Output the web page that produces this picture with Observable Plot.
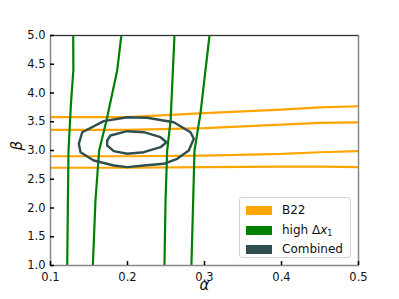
<!DOCTYPE html>
<html><head><meta charset="utf-8">
<script src="https://cdn.jsdelivr.net/npm/d3@7"></script>
<script src="https://cdn.jsdelivr.net/npm/@observablehq/plot@0.6"></script>
<style>
body{margin:0;background:#fff;font-family:"DejaVu Sans",sans-serif;}
#wrap{position:relative;width:399px;height:299px;}
#legend{position:absolute;left:239px;top:197px;width:112px;height:61px;border:1px solid #d0d0d0;border-radius:3px;background:rgba(255,255,255,0.85);font-size:12px;color:#111;box-sizing:border-box;}
.row{position:absolute;left:6px;display:flex;align-items:center;}
.sw{width:26px;height:9px;margin-right:10px;}
sub{font-size:8px;vertical-align:-2px;}
</style></head>
<body><div id="wrap"><div id="legend"></div></div>
<script>
// ticks
const xTicks = [0.1, 0.2, 0.3, 0.4, 0.5];
const yTicks = [1.0, 1.5, 2.0, 2.5, 3.0, 3.5, 4.0, 4.5, 5.0];

// B22 (orange) contours: beta vs alpha
const b22Alpha = [0.1, 0.2, 0.3, 0.4, 0.45, 0.5];
const b22Beta1 = [3.58, 3.58, 3.65, 3.71, 3.75, 3.77];
const b22Beta2 = [3.36, 3.36, 3.39, 3.45, 3.48, 3.49];
const b22Beta3 = [2.90, 2.90, 2.91, 2.94, 2.97, 2.99];
const b22Beta4 = [2.70, 2.70, 2.71, 2.72, 2.72, 2.71];

// high Δx1 (green) contours: alpha vs beta
const g1Beta = [1.0, 2.0, 3.0, 3.8, 4.4, 5.0];
const g1Alpha = [0.1217, 0.1225, 0.1234, 0.1265, 0.1297, 0.1295];
const g2Beta = [1.0, 2.13, 3.0, 3.52, 4.39, 5.0];
const g2Alpha = [0.155, 0.1584, 0.1632, 0.1727, 0.1866, 0.192];
const g3Beta = [1.0, 2.13, 3.0, 3.52, 5.0];
const g3Alpha = [0.248, 0.2494, 0.2515, 0.256, 0.261];
const g4Beta = [1.0, 2.13, 3.0, 3.65, 5.0];
const g4Alpha = [0.283, 0.2853, 0.287, 0.2948, 0.3065];

// Combined (dark slate) contours
const outerAlpha = [0.1412, 0.1692, 0.1996, 0.2256, 0.2601, 0.2818, 0.2861, 0.2796, 0.2645, 0.2471, 0.2212, 0.1996, 0.1822, 0.1562, 0.139, 0.1368, 0.1412];
const outerBeta  = [3.318, 3.510, 3.579, 3.569, 3.492, 3.318, 3.203, 3.0, 2.856, 2.769, 2.739, 2.710, 2.739, 2.826, 2.970, 3.117, 3.318];
const innerAlpha = [0.1736, 0.1779, 0.1996, 0.2212, 0.2429, 0.2506, 0.2429, 0.2212, 0.1996, 0.1822, 0.1736, 0.1736];
const innerBeta  = [3.174, 3.261, 3.336, 3.318, 3.231, 3.144, 3.057, 2.970, 2.943, 2.988, 3.087, 3.174];

const legendLabels = ["B22", "high Δ<i>x</i><sub>1</sub>", "Combined"];
const legendColors = ["#FFA500", "#008000", "#2F4F4F"];

const zip = (xs, ys) => xs.map((x, i) => ({a: x, b: ys[i]}));
const lineOpts = (stroke) => ({x: "a", y: "b", stroke, strokeWidth: 2.2, clip: true});

const chart = Plot.plot({
  width: 399, height: 299,
  marginLeft: 50, marginRight: 41, marginTop: 35, marginBottom: 34,
  style: {fontFamily: "DejaVu Sans, sans-serif", fontSize: "11px", color: "#111", background: "white"},
  x: {domain: [0.1, 0.5]},
  y: {domain: [1, 5]},
  marks: [
    ...[b22Beta1, b22Beta2, b22Beta3, b22Beta4].map(bs => Plot.line(zip(b22Alpha, bs), lineOpts("#FFA500"))),
    ...[[g1Alpha, g1Beta], [g2Alpha, g2Beta], [g3Alpha, g3Beta], [g4Alpha, g4Beta]].map(([as, bs]) => Plot.line(zip(as, bs), lineOpts("#008000"))),
    Plot.line(zip(outerAlpha, outerBeta), {...lineOpts("#2F4F4F"), strokeWidth: 2.4}),
    Plot.line(zip(innerAlpha, innerBeta), {...lineOpts("#2F4F4F"), strokeWidth: 2.4}),
    Plot.frame({stroke: "#888", strokeWidth: 1.5}),
    Plot.ruleY([5], {stroke: "#333", strokeWidth: 1.2}),
    Plot.ruleX(xTicks, {x: d => d, y1: 1, y2: 1, insetTop: -4, stroke: "#000", strokeWidth: 1.5}),
    Plot.ruleY(yTicks, {y: d => d, x1: 0.1, x2: 0.1, insetRight: -4, stroke: "#000", strokeWidth: 1.5}),
    Plot.axisX(xTicks, {tickSize: 0, tickPadding: 7, tickFormat: d3.format(".1f"), label: null, fontSize: 11.5}),
    Plot.axisY(yTicks, {tickSize: 0, tickPadding: 5, tickFormat: d3.format(".1f"), label: null, fontSize: 11.5}),
    Plot.text(["α"], {frameAnchor: "bottom", dy: 24, fontSize: 15, fontStyle: "italic", fill: "#111"}),
    Plot.text(["β"], {frameAnchor: "left", dx: -33, rotate: -90, fontSize: 15, fontStyle: "italic", fill: "#111"})
  ]
});
document.getElementById("wrap").prepend(chart);

const leg = document.getElementById("legend");
legendLabels.forEach((lab, i) => {
  const r = document.createElement("div");
  r.className = "row";
  r.style.top = (5 + i * 19.5) + "px";
  r.innerHTML = `<span class="sw" style="background:${legendColors[i]}"></span><span>${lab}</span>`;
  leg.appendChild(r);
});
</script></body></html>
